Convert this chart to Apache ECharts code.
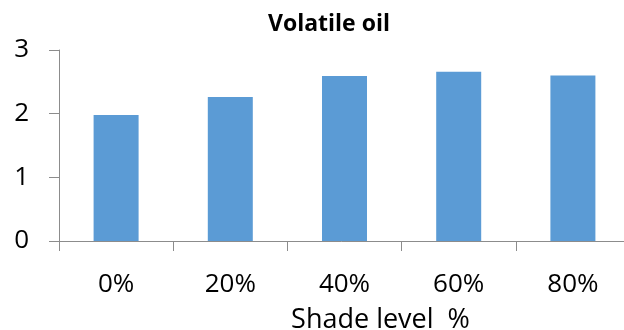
<!DOCTYPE html>
<html>
<head>
<meta charset="utf-8">
<script src="https://cdn.jsdelivr.net/npm/echarts@6/dist/echarts.min.js"></script>
<style>
  html, body { margin: 0; padding: 0; background: #fff; }
  #chart { width: 624px; height: 330px; }
</style>
</head>
<body>
<div id="chart"></div>
<script>
// Shade levels and measured volatile oil content
const categories = ['0%', '20%', '40%', '60%', '80%'];
const oilValues = [1.98, 2.26, 2.59, 2.66, 2.60];
const yTicks = [0, 1, 2, 3];

const font = '"Open Sans", "Liberation Sans", sans-serif';
const axisGray = '#8c8c8c';

const chart = echarts.init(document.getElementById('chart'), null, { renderer: 'canvas' });
chart.setOption({
  animation: false,
  backgroundColor: '#ffffff',
  title: {
    text: 'Volatile oil',
    left: 263,
    top: 8,
    textStyle: { fontFamily: font, fontSize: 23, fontWeight: 'bold', color: '#000' }
  },
  grid: {
    left: 59, right: -6, top: 50, bottom: 89,
    containLabel: false,
    outerBoundsMode: 'none'
  },
  xAxis: {
    type: 'category',
    data: categories,
    name: 'Shade level  %',
    nameLocation: 'middle',
    nameGap: 66,
    // axis title sits right of the axis centre
    nameTextStyle: { fontFamily: font, fontSize: 27, color: '#000', padding: [0, 0, 0, 72] },
    axisLine: { lineStyle: { color: axisGray, width: 1 } },
    axisTick: { show: true, length: 10, lineStyle: { color: axisGray } },
    axisLabel: { fontFamily: font, fontSize: 26, color: '#000', margin: 31 }
  },
  yAxis: {
    type: 'value',
    min: yTicks[0],
    max: yTicks[yTicks.length - 1],
    interval: 1,
    splitLine: { show: false },
    axisLine: { show: true, lineStyle: { color: axisGray, width: 1 } },
    axisTick: { show: true, length: 10, lineStyle: { color: axisGray } },
    axisLabel: { fontFamily: font, fontSize: 26, color: '#000', margin: 30 }
  },
  series: [{
    type: 'bar',
    data: oilValues,
    barWidth: 45,
    itemStyle: { color: '#5b9bd5' }
  }]
});
</script>
</body>
</html>
